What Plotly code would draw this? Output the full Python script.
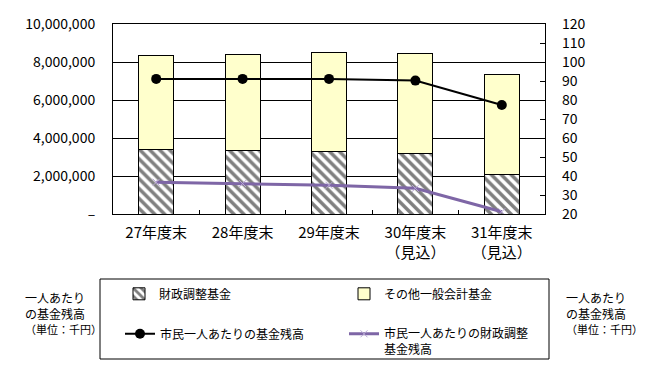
import plotly.graph_objects as go

categories = ["27年度末", "28年度末", "29年度末", "30年度末<br>（見込）", "31年度末<br>（見込）"]
zaisei_fund = [3400000, 3350000, 3300000, 3190000, 2100000]
other_fund = [4950000, 5050000, 5200000, 5260000, 5220000]
per_capita_fund = [91.1, 91.1, 91.1, 90.2, 77.4]
per_capita_zaisei = [36.7, 36.0, 35.1, 33.5, 21.2]

y_tick_vals = [0, 2000000, 4000000, 6000000, 8000000, 10000000]
y_tick_text = ["–", "2,000,000", "4,000,000", "6,000,000", "8,000,000", "10,000,000"]
y2_tick_vals = [20, 30, 40, 50, 60, 70, 80, 90, 100, 110, 120]

FONT = "Noto Sans CJK JP"
W, H = 647, 386
PL, PR, PT, PB = 113, 545, 24, 214
PW, PH = PR - PL, PB - PT


def px_x(v):
    return (v - PL) / PW


def px_y(v):
    return (PB - v) / PH


def leg(xpx, ypx):
    return dict(
        orientation="h", xref="container", yref="container",
        x=xpx / W, y=1 - ypx / H, xanchor="left", yanchor="top",
        bgcolor="rgba(0,0,0,0)", borderwidth=0, valign="top",
        font=dict(size=12),
    )


fig = go.Figure()
fig.add_trace(go.Bar(
    x=categories, y=zaisei_fund, name="財政調整基金",
    marker=dict(color="white", line=dict(color="black", width=1),
                pattern=dict(shape="\\", fgcolor="black", bgcolor="white", size=7, solidity=0.5)),
    legend="legend",
))
fig.add_trace(go.Bar(
    x=categories, y=other_fund, name="その他一般会計基金",
    marker=dict(color="#FFFFCC", line=dict(color="black", width=1)),
    legend="legend2",
))
fig.add_trace(go.Scatter(
    x=categories, y=per_capita_fund, name="市民一人あたりの基金残高",
    yaxis="y2", mode="lines+markers",
    line=dict(color="black", width=2),
    marker=dict(symbol="circle", size=10, color="black"),
    legend="legend3",
))
fig.add_trace(go.Scatter(
    x=categories, y=per_capita_zaisei, name="市民一人あたりの財政調整<br>基金残高",
    yaxis="y2", mode="lines+markers",
    line=dict(color="#7E66A6", width=3),
    marker=dict(symbol="x-thin", size=7, color="#B8A8D4", line=dict(color="#B8A8D4", width=1)),
    legend="legend4",
))

fig.update_layout(
    width=W, height=H,
    margin=dict(l=PL, r=W - PR, t=PT, b=H - PB),
    paper_bgcolor="white", plot_bgcolor="white",
    barmode="stack", bargap=0.595,
    font=dict(family=FONT, size=12, color="black"),
    xaxis=dict(
        showline=True, mirror=True, linecolor="black", linewidth=1,
        ticks="inside", ticklen=4, tickcolor="black", tickson="boundaries",
        tickfont=dict(size=15), showgrid=False, ticklabelstandoff=5,
    ),
    yaxis=dict(
        range=[0, 10000000], tickvals=y_tick_vals, ticktext=y_tick_text,
        showline=True, mirror=True, linecolor="black", linewidth=1,
        showgrid=True, gridcolor="black", gridwidth=1, zeroline=False,
        ticks="", tickfont=dict(size=14), ticklabelstandoff=14,
    ),
    yaxis2=dict(
        range=[20, 120], tickvals=y2_tick_vals, overlaying="y", side="right",
        showgrid=False, zeroline=False, ticks="inside", ticklen=5, tickcolor="black",
        tickfont=dict(size=14), ticklabelstandoff=16,
    ),
    legend=leg(119, 279.5),
    legend2=leg(344, 279.5),
    legend3=leg(120, 319.5),
    legend4=leg(344, 319.5),
    showlegend=True,
)

# legend frame
fig.add_shape(type="rect", xref="paper", yref="paper",
              x0=px_x(100), x1=px_x(549), y0=px_y(279), y1=px_y(359),
              line=dict(color="black", width=1), fillcolor="rgba(0,0,0,0)")

side_text = "一人あたり<br>の基金残高<br><span style='font-size:11px'>（単位：千円）</span>"
for xpx in (23, 564):
    fig.add_annotation(text=side_text, xref="paper", yref="paper",
                       x=px_x(xpx), y=px_y(287),
                       xanchor="left", yanchor="top", showarrow=False,
                       align="left", font=dict(size=12))

fig.write_html("out.html", post_script="document.body.style.margin='0';",
               config={"displayModeBar": False})
